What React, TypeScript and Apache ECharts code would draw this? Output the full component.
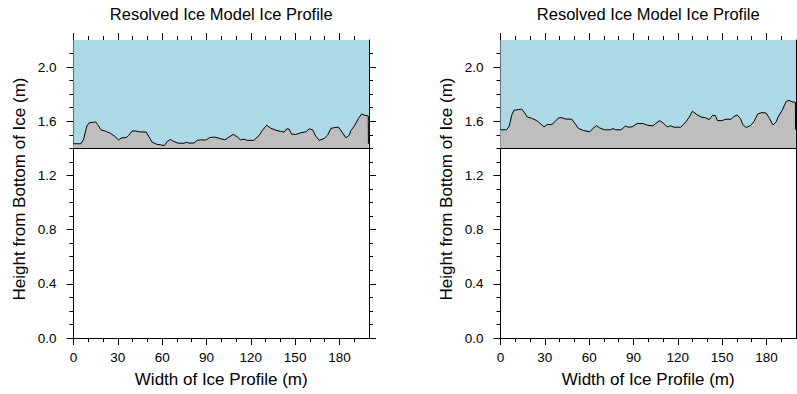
import React, { useEffect, useRef } from "react";
import * as echarts from "echarts";

const TITLE = "Resolved Ice Model Ice Profile";
const X_TITLE = "Width of Ice Profile (m)";
const Y_TITLE = "Height from Bottom of Ice (m)";

const X_MIN = 0;
const X_MAX = 200;
const X_INTERVAL = 30;
const X_TICKS = [0, 30, 60, 90, 120, 150, 180];
const Y_MIN = 0;
const Y_MAX = 2.2;
const Y_INTERVAL = 0.4;
const Y_TICKS = [0, 0.4, 0.8, 1.2, 1.6, 2.0];

const ICE_BASE = 1.4;
const ICE_TOP = 2.2;

const leftProfile: number[][] = [
  [0, 1.434], [5, 1.434], [6.8, 1.466], [9, 1.564], [10.6, 1.588], [13.6, 1.593],
  [15, 1.595], [16.3, 1.576], [18.6, 1.537], [21.5, 1.527], [24.9, 1.512], [27.8, 1.49],
  [30.5, 1.463], [32.8, 1.478], [35.7, 1.48], [37.3, 1.495], [39.6, 1.527], [41.9, 1.529],
  [44.6, 1.522], [49.3, 1.52], [50.9, 1.488], [53.2, 1.446], [56.6, 1.429], [58.8, 1.427],
  [61.5, 1.42], [63.3, 1.449], [65.6, 1.466], [67.9, 1.451], [70.6, 1.439], [74.7, 1.437],
  [76.5, 1.446], [78, 1.439], [81.4, 1.439], [83.7, 1.459], [86, 1.463], [89.4, 1.461],
  [92.3, 1.48], [95.5, 1.483], [99, 1.473], [102.5, 1.463], [105.2, 1.483], [108.1, 1.503],
  [110.9, 1.485], [113, 1.463], [115.4, 1.468], [117.6, 1.459], [122, 1.459], [125.6, 1.495],
  [127.8, 1.532], [130.8, 1.571], [133.5, 1.549], [136.9, 1.534], [140.3, 1.525], [142.5, 1.52],
  [144.3, 1.544], [145.9, 1.542], [147.7, 1.505], [150.5, 1.503], [153.8, 1.515], [157.2, 1.522],
  [159.5, 1.544], [161.8, 1.537], [164, 1.49], [166.3, 1.459], [169.7, 1.473], [172, 1.498],
  [174.2, 1.547], [176.9, 1.554], [179.4, 1.556], [181.7, 1.52], [184.4, 1.478], [186.7, 1.498],
  [187.8, 1.532], [190, 1.564], [192.8, 1.62], [195, 1.654], [197.3, 1.644], [199.5, 1.639],
  [199.6, 1.434],
];

const rightProfile: number[][] = [
  [0, 1.537], [4.1, 1.537], [5.9, 1.564], [7.7, 1.649], [9.1, 1.681], [12, 1.686],
  [14.3, 1.69], [15.9, 1.669], [18.1, 1.632], [21.1, 1.622], [24.5, 1.605], [27.2, 1.581],
  [29.5, 1.559], [31.7, 1.576], [34.7, 1.576], [37, 1.598], [39.2, 1.625], [41.5, 1.627],
  [43.8, 1.617], [48.3, 1.615], [50.6, 1.581], [52.8, 1.547], [56.2, 1.532], [60.3, 1.522],
  [62.6, 1.547], [64.9, 1.568], [67.1, 1.551], [70.3, 1.537], [74.4, 1.537], [76.2, 1.547],
  [77.8, 1.537], [81.6, 1.537], [84.6, 1.566], [86.4, 1.556], [89.1, 1.559], [92.5, 1.583],
  [96.6, 1.583], [99.3, 1.571], [103.2, 1.566], [105, 1.583], [107.7, 1.605], [110.2, 1.586],
  [112.9, 1.559], [115.2, 1.566], [117.5, 1.556], [122, 1.556], [125.4, 1.595], [127.7, 1.63],
  [129.9, 1.674], [132.9, 1.649], [135.6, 1.632], [139, 1.625], [141.3, 1.612], [143.5, 1.644],
  [145.4, 1.642], [146.9, 1.605], [149.7, 1.605], [152.6, 1.615], [156, 1.615], [157.8, 1.634],
  [160.1, 1.647], [162.4, 1.62], [164, 1.576], [166.2, 1.554], [169.2, 1.568], [171.4, 1.595],
  [174.1, 1.654], [176.9, 1.664], [179.8, 1.661], [182.1, 1.62], [184.4, 1.573], [186.6, 1.595],
  [187.8, 1.63], [190.5, 1.678], [193.4, 1.747], [195.2, 1.754], [197.9, 1.742], [199.6, 1.74],
  [199.7, 1.537],
];

const FONT = "'Liberation Sans', Arial, Helvetica, sans-serif";
const BLUE = "#ADD8E6";
const GRAY = "#BEBEBE";

const panels = [
  { left: 73.5, profile: leftProfile },
  { left: 500.5, profile: rightProfile },
];

function buildOption() {
  const grids: any[] = [];
  const xAxes: any[] = [];
  const yAxes: any[] = [];
  const series: any[] = [];
  const titles: any[] = [];
  const axisLine = { show: true, onZero: false, lineStyle: { color: "#000", width: 1 } };
  const tick = (vals: number[]) => ({
    show: true, inside: false, length: 7, customValues: vals,
    lineStyle: { color: "#000", width: 1 },
  });
  panels.forEach((p, i) => {
    const width = 295.5;
    grids.push({ left: p.left, top: 40, width, height: 298, containLabel: false });
    titles.push({
      text: TITLE, left: p.left + width / 2, top: 5, padding: 0, textAlign: "center",
      textStyle: { fontFamily: FONT, fontSize: 16.5, fontWeight: "normal", color: "#000" },
    });
    const xBase = {
      type: "value", gridIndex: i, min: X_MIN, max: X_MAX, interval: X_INTERVAL,
      axisLine, axisTick: tick(X_TICKS),
      minorTick: { show: true, splitNumber: 3, length: 4, lineStyle: { color: "#000", width: 1 } },
      splitLine: { show: false }, minorSplitLine: { show: false },
    };
    xAxes.push({
      ...xBase, position: "bottom",
      name: X_TITLE, nameLocation: "middle", nameGap: 33,
      nameTextStyle: { fontFamily: FONT, fontSize: 17, color: "#000" },
      axisLabel: {
        show: true, customValues: X_TICKS, margin: 12,
        fontFamily: FONT, fontSize: 13.5, color: "#000",
      },
    });
    xAxes.push({ ...xBase, position: "top", axisLabel: { show: false } });
    const yBase = {
      type: "value", gridIndex: i, min: Y_MIN, max: Y_MAX, interval: Y_INTERVAL,
      axisLine, axisTick: tick(Y_TICKS),
      minorTick: { show: true, splitNumber: 4, length: 4, lineStyle: { color: "#000", width: 1 } },
      splitLine: { show: false }, minorSplitLine: { show: false },
    };
    yAxes.push({
      ...yBase, position: "left",
      name: Y_TITLE, nameLocation: "middle", nameGap: 46,
      nameTextStyle: { fontFamily: FONT, fontSize: 17, color: "#000" },
      axisLabel: {
        show: true, customValues: Y_TICKS, margin: 17,
        fontFamily: FONT, fontSize: 13.5, color: "#000",
        formatter: (v: number) => v.toFixed(1),
      },
    });
    yAxes.push({ ...yBase, position: "right", axisLabel: { show: false } });
    series.push({
      type: "line", xAxisIndex: i * 2, yAxisIndex: i * 2, silent: true,
      data: [[X_MIN, ICE_TOP], [X_MAX, ICE_TOP]],
      symbol: "none", lineStyle: { width: 0 },
      areaStyle: { color: BLUE, opacity: 1, origin: ICE_BASE }, z: 1,
    });
    series.push({
      type: "line", xAxisIndex: i * 2, yAxisIndex: i * 2, silent: true,
      data: p.profile, symbol: "none",
      lineStyle: { color: "#000", width: 1 },
      areaStyle: { color: GRAY, opacity: 1, origin: ICE_BASE }, z: 2,
      markLine: {
        silent: true, symbol: ["none", "none"], label: { show: false },
        lineStyle: { color: "#000", width: 1, type: "solid" },
        data: [{ yAxis: ICE_BASE }],
      },
    });
  });
  return {
    animation: false,
    backgroundColor: "#fff",
    title: titles,
    grid: grids,
    xAxis: xAxes,
    yAxis: yAxes,
    series,
  };
}

export default function App() {
  const ref = useRef<HTMLDivElement>(null);
  useEffect(() => {
    if (!ref.current) return;
    const chart = echarts.init(ref.current, undefined, { renderer: "svg" });
    chart.setOption(buildOption() as any);
    return () => chart.dispose();
  }, []);
  return <div ref={ref} style={{ width: 797, height: 394, position: "absolute", left: 0, top: 0 }} />;
}
